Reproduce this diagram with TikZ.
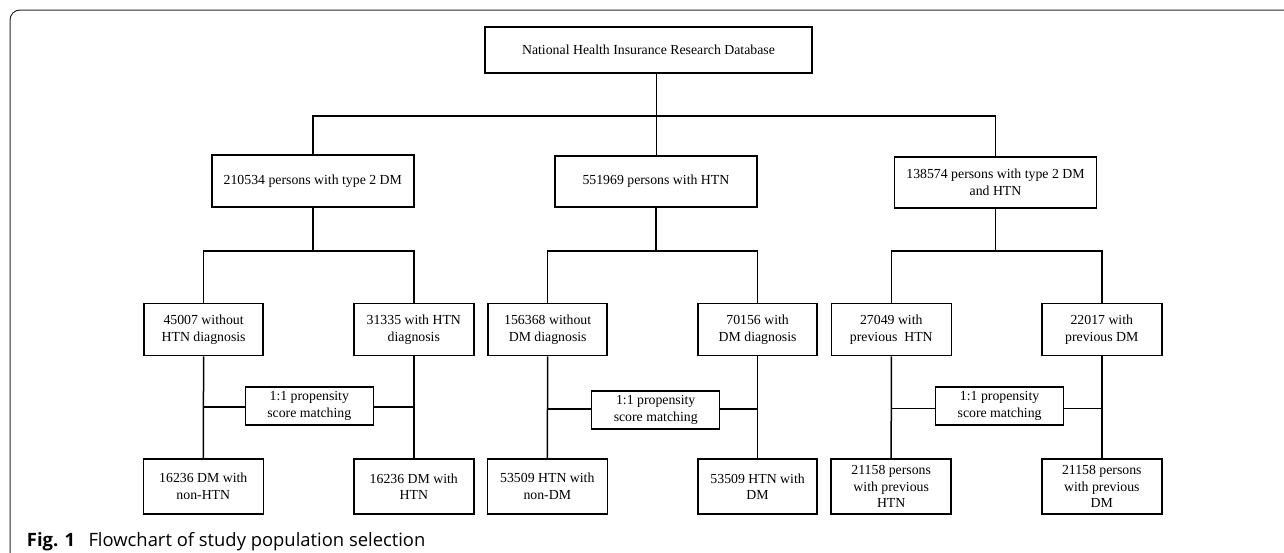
\documentclass[tikz,border=0pt]{standalone}
\usepackage{fontspec}
\setmainfont{Liberation Serif}
\newfontfamily\capfont{Open Sans}
\begin{document}
\begin{tikzpicture}[x=1pt,y=-1pt,
  box/.style={draw, line width=1.5pt, inner sep=0pt, align=center,
    font=\fontsize{13.8}{16.7}\selectfont},
  conn/.style={line width=1.5pt},
  frame/.style={line width=1pt, draw=black!85, rounded corners=10pt},
  capt/.style={anchor=base west, inner sep=0pt, font=\capfont\fontsize{18.4}{22}\selectfont}]
\useasboundingbox (0,0) rectangle (1284,552);
\draw[frame] (10,560) -- (10,10) -- (1290,10);
% level 0
\node[box, minimum width=327pt, minimum height=46pt] (top) at (648.5,50) {National Health Insurance Research Database};
% level 1
\node[box, minimum width=202pt, minimum height=52pt] (A) at (312.8,181) {210534 persons with type 2 DM};
\node[box, minimum width=202pt, minimum height=51pt] (B) at (655.9,181.5) {551969 persons with HTN};
\node[box, minimum width=202pt, minimum height=51pt] (C) at (995.5,182.5) {138574 persons with type 2 DM\\and HTN};
% level 2
\node[box, minimum width=119pt, minimum height=52pt] (D1) at (203.6,329.5) {45007 without\\HTN diagnosis};
\node[box, minimum width=120pt, minimum height=52pt] (D2) at (413.8,329.5) {31335 with HTN\\diagnosis};
\node[box, minimum width=119pt, minimum height=52pt] (E1) at (547.7,329.5) {156368 without\\DM diagnosis};
\node[box, minimum width=119pt, minimum height=52pt] (E2) at (757.6,329.5) {70156 with\\DM diagnosis};
\node[box, minimum width=120pt, minimum height=52pt] (F1) at (891.3,329.5) {27049 with\\previous\ \ HTN};
\node[box, minimum width=120pt, minimum height=52pt] (F2) at (1101.8,329.5) {22017 with\\previous DM};
% matching
\node[box, minimum width=128pt, minimum height=38pt] (M1) at (309.3,406.2) {1:1 propensity\\score matching};
\node[box, minimum width=128pt, minimum height=38pt] (M2) at (655.7,410) {1:1 propensity\\score matching};
\node[box, minimum width=128pt, minimum height=38pt] (M3) at (999.6,406.2) {1:1 propensity\\score matching};
% level 3
\node[box, minimum width=120pt, minimum height=55pt] (G1) at (203.3,486.6) {16236 DM with\\non-HTN};
\node[box, minimum width=120pt, minimum height=55pt] (G2) at (413.8,486.6) {16236 DM with\\HTN};
\node[box, minimum width=120pt, minimum height=55pt] (H1) at (547.3,486.6) {53509 HTN with\\non-DM};
\node[box, minimum width=119pt, minimum height=55pt] (H2) at (757.6,486.6) {53509 HTN with\\DM};
\node[box, minimum width=120pt, minimum height=55pt] (I1) at (891.2,486.6) {21158 persons\\with previous\\HTN};
\node[box, minimum width=120pt, minimum height=55pt] (I2) at (1101.8,486.6) {21158 persons\\with previous\\DM};
% connectors level 0 -> 1
\coordinate (j0) at (656.5,116);
\draw[conn] (top.south -| j0) -- (j0);
\draw[conn] (A.north) |- (j0) -| (C.north);
\draw[conn] (j0) -- (j0 |- B.north);
% level 1 -> 2
\draw[conn] (A.south) -- ++(0,43) coordinate (a1);
\draw[conn] (D1.north) |- (a1) -| (D2.north);
\draw[conn] (B.south) -- ++(0,43) coordinate (b1);
\draw[conn] (E1.north) |- (b1) -| (E2.north);
\draw[conn] (C.south) -- ++(0,42) coordinate (c1);
\draw[conn] (F1.north) |- (c1) -| (F2.north);
% level 2 -> 3
\draw[conn] (D1.south) -- (G1.north);
\draw[conn] (D2.south) -- (G2.north);
\draw[conn] (E1.south) -- (H1.north);
\draw[conn] (E2.south) -- (H2.north);
\draw[conn] (F1.south) -- (I1.north);
\draw[conn] (F2.south) -- (I2.north);
% matching links
\draw[conn] ([yshift=-1pt]M1.west) -- ([yshift=-1pt]M1.west -| D1.south);
\draw[conn] ([yshift=-1pt]M1.east) -- ([yshift=-1pt]M1.east -| D2.south);
\draw[conn] ([yshift=1pt]M2.west) -- ([yshift=1pt]M2.west -| E1.south);
\draw[conn] ([yshift=1pt]M2.east) -- ([yshift=1pt]M2.east -| E2.south);
\draw[conn] ([yshift=-2.5pt]M3.west) -- ([yshift=-2.5pt]M3.west -| F1.south);
\draw[conn] ([yshift=-2.5pt]M3.east) -- ([yshift=-2.5pt]M3.east -| F2.south);
% caption
\node[capt] (figlab) at (26.7,546) {\bfseries Fig. 1};
\node[capt] (figtxt) at (88.3,546) {Flowchart of study population selection};
\end{tikzpicture}
\end{document}
